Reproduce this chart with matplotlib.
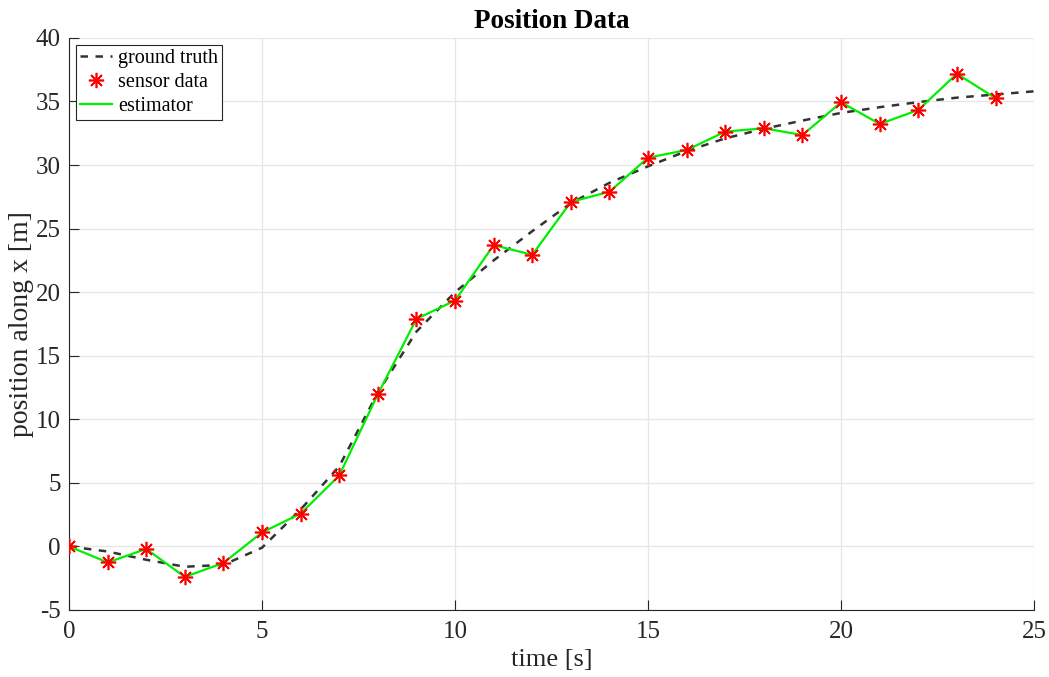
import numpy as np
import matplotlib.pyplot as plt

# sensor measurements (estimator passes through them)
t_sensor = np.arange(0, 25)
x_sensor = [0.0, -1.26, -0.2, -2.4, -1.3, 1.1, 2.58, 5.58, 11.97, 17.9,
            19.34, 23.7, 22.94, 27.1, 27.9, 30.58, 31.18, 32.63, 32.89, 32.36,
            34.94, 33.23, 34.33, 37.18, 35.26]
x_est = x_sensor

# ground truth
t_true = np.arange(0, 26)
x_true = [0.0, -0.4, -1.05, -1.6, -1.45, -0.1, 2.9, 6.3, 12.1, 16.9,
          20.0, 22.5, 24.8, 27.0, 28.6, 29.9, 31.1, 32.1, 32.85, 33.5,
          34.1, 34.55, 34.95, 35.3, 35.55, 35.8]

plt.rcParams['font.family'] = ['Liberation Serif', 'DejaVu Serif']
plt.rcParams['axes.unicode_minus'] = False

fig = plt.figure(figsize=(10.49, 6.77), dpi=100)
ax = fig.add_axes([0.0658, 0.099, 0.92, 0.845])

ax.plot(t_true, x_true, '--', color='#333333', lw=1.8, dashes=(3, 3), label='ground truth')
ax.plot(t_sensor, x_sensor, ls='none', marker=(8, 2, 0), color='red', mec='red',
        mew=1.2, ms=11, label='sensor data', zorder=3)
ax.plot(t_sensor, x_est, '-', color='#00ee00', lw=1.6, label='estimator', zorder=2)

ax.set_xlim(0, 25)
ax.set_ylim(-5, 40)
ax.set_xticks(np.arange(0, 26, 5))
ax.set_yticks(np.arange(-5, 41, 5))
ax.grid(True, color='#e6e6e6', lw=0.9)
ax.set_axisbelow(True)
for s in ['top', 'right']:
    ax.spines[s].set_visible(False)
for s in ['left', 'bottom']:
    ax.spines[s].set_color('#262626')
    ax.spines[s].set_linewidth(0.8)
ax.tick_params(direction='in', length=7, labelsize=18, colors='#262626')
ax.tick_params(axis='x', pad=8)
ax.tick_params(axis='y', pad=6)

ax.set_xlabel('time [s]', fontsize=19, color='#262626', labelpad=4)
ax.set_ylabel('position along x [m]', fontsize=20, color='#262626', labelpad=1)
ax.set_title('Position Data', fontsize=19.5, fontweight='bold', pad=7)

leg = ax.legend(loc='upper left', fontsize=14.5, frameon=True, fancybox=False,
                edgecolor='#262626', framealpha=1, borderpad=0.2, labelspacing=0.25,
                handlelength=1.6, handletextpad=0.3, borderaxespad=0.35)
leg.get_frame().set_linewidth(0.8)

fig.savefig('out.png', dpi=100)
